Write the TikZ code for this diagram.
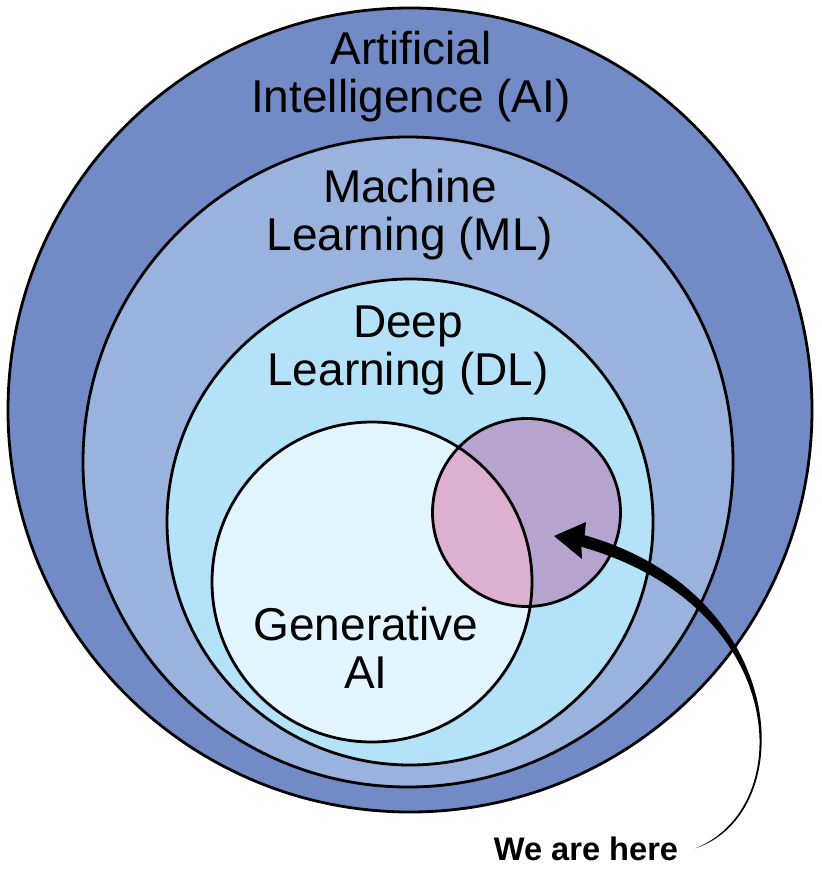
\documentclass[tikz,border=0pt]{standalone}
\usepackage{fontspec}
\setmainfont{Liberation Sans}
\usetikzlibrary{positioning}
\definecolor{aiblue}{RGB}{114,138,198}
\definecolor{mlblue}{RGB}{153,179,222}
\definecolor{dlblue}{RGB}{180,226,248}
\definecolor{genblue}{RGB}{226,244,253}
\definecolor{gptpurple}{RGB}{183,164,206}
\definecolor{gptpink}{RGB}{220,176,206}
\tikzset{
  ring/.style    = {draw=black, line width=2.8pt},
  ai ring/.style = {ring, fill=aiblue},
  ml ring/.style = {ring, fill=mlblue},
  dl ring/.style = {ring, fill=dlblue},
  title/.style   = {font=\fontsize{46}{48}\selectfont, align=center, inner sep=0pt},
  note/.style    = {font=\bfseries\fontsize{32.6}{36}\selectfont, inner sep=0pt}
}

\begin{document}
\begin{tikzpicture}[x=1pt, y=-1pt]
\useasboundingbox (0,0) rectangle (821,885);

% centres of the circles
\coordinate (ai)  at (410,410);
\coordinate (ml)  at (408,462);
\coordinate (dl)  at (410,522);
\coordinate (gen) at (372,582);
\coordinate (gpt) at (526.5,512.5);

% nested circles, outer first
\draw [ai ring] (ai) circle[radius=402pt];
\draw [ml ring] (ml) circle[radius=325pt];
\draw [dl ring] (dl) circle[radius=243pt];
\fill [genblue] (gen) circle[radius=160pt];
\fill [gptpurple] (gpt) circle[radius=94pt];

% overlap of the two inner circles
\begin{scope}
\clip (gen) circle[radius=160pt];
\fill [gptpink] (gpt) circle[radius=94pt];
\end{scope}
\draw [ring] (gen) circle[radius=160pt];
\draw [ring] (gpt) circle[radius=94pt];

% labels
\node [title] (tai)  at (411,77)  {Artificial\\ Intelligence (AI)};
\node [title] (tml)  at (410,215) {Machine\\ Learning (ML)};
\node [title] (tdl)  at (408,350) {Deep\\ Learning (DL)};
\node [title] (tgen) at (366,648) {Generative\\ AI};
\node [note, anchor=base] (here) at (586,860) {We are here};

% tapered arrow into the small circle
\coordinate [right=17pt of here] (tail);
\coordinate (tip) at (554,536);
\fill (tail) .. controls (801.2,813.3) and (791.6,594.2) .. (584.6,535.2)
  -- (586,522) -- (tip) -- (582,559) -- (581.4,546.8)
  .. controls (788.4,605.8) and (798.8,806.7) .. (tail) -- cycle;

\end{tikzpicture}
\end{document}
